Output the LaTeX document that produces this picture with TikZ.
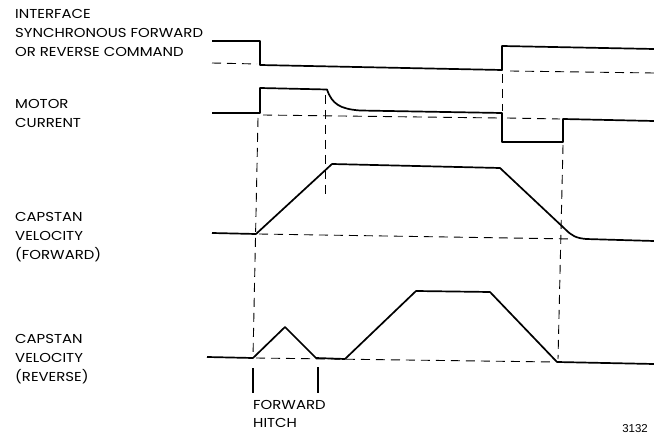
\documentclass[tikz,border=0pt]{standalone}
\usepackage{fontspec}
\newfontfamily\lblfont[FakeStretch=1.15]{Poppins}
\newfontfamily\numfont{Liberation Sans}
\begin{document}
\begin{tikzpicture}[x=1bp,y=-1bp,
  wave/.style={line width=1.7bp, line join=round},
  guide/.style={line width=0.9bp, dash pattern=on 9bp off 6bp},
  hitchtick/.style={line width=1.1bp},
  lbl/.style={anchor=base west, inner sep=0pt, font=\lblfont\fontsize{13}{15}\selectfont}]
\useasboundingbox (0,0) rectangle (654,437);

% ---- labels ----
\node[lbl] (l1a) at (15,18.5) {INTERFACE};
\node[lbl] (l1b) at (15,37.5) {SYNCHRONOUS FORWARD};
\node[lbl] (l1c) at (15,56.5) {OR REVERSE COMMAND};
\node[lbl] (l2a) at (15,109) {MOTOR};
\node[lbl] (l2b) at (15,128) {CURRENT};
\node[lbl] (l3a) at (15,222) {CAPSTAN};
\node[lbl] (l3b) at (15,241) {VELOCITY};
\node[lbl] (l3c) at (15,260) {(FORWARD)};
\node[lbl] (l4a) at (15,343) {CAPSTAN};
\node[lbl] (l4b) at (15,362) {VELOCITY};
\node[lbl] (l4c) at (15,381) {(REVERSE)};
\node[lbl] (h1) at (253,409) {FORWARD};
\node[lbl] (h2) at (253,427) {HITCH};
\node[anchor=base east, inner sep=0pt, font=\numfont\fontsize{11.5}{13}\selectfont] (fig) at (648,432) {3132};

% ---- command ----
\draw[wave] (212,41) -- (260,41) -- (260,65) -- (502,70) -- (502,46) -- (654,49);
\draw[guide] (212,63) -- (257,64);
\draw[guide] (510,71) -- (654,73);

% ---- motor current ----
\draw[wave] (212,113) -- (260,113) -- (260,88) -- (327,89.5)
  .. controls (332,104) and (340,109) .. (360,110.5) -- (502,113)
  -- (502,142) -- (563,142) -- (563,119) -- (654,121);
\draw[guide] (263,115) -- (499,118);
\draw[guide] (507,118) -- (560,119);

% ---- forward velocity ----
\draw[wave] (212,233) -- (256,234) -- (332,164) -- (500,168) -- (565,229)
  .. controls (572,236) and (576,238) .. (586,239) -- (654,241);
\draw[guide] (259,234) -- (573,239);

% ---- reverse velocity ----
\draw[wave] (207,357) -- (253,358) -- (285,327) -- (316,358) -- (345,359)
  -- (416,291) -- (490,292) -- (557,362) -- (654,364);
\draw[guide] (256,358) -- (555,362);

% ---- vertical guides ----
\draw[guide] (258,118) -- (253,357);
\draw[guide] (325,95) -- (325,196);
\draw[guide] (502,74) -- (502,111);
\draw[guide] (563,145) -- (558,359);

% ---- forward hitch markers ----
\draw[hitchtick] (253,368) -- (253,393);
\draw[hitchtick] (318,367) -- (318,393);
\end{tikzpicture}
\end{document}
